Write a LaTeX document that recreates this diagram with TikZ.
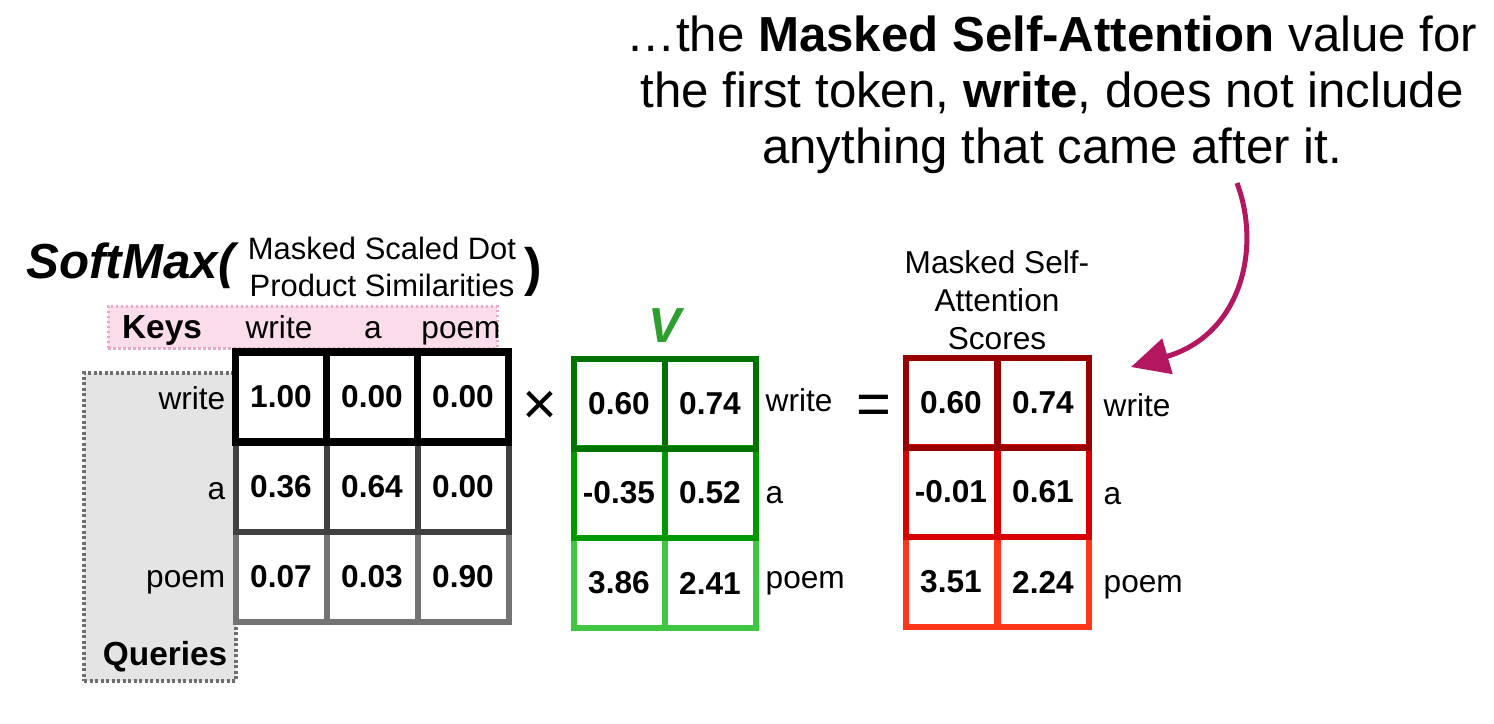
\documentclass[tikz,border=0pt]{standalone}
\usepackage{fontspec}
\setmainfont{Liberation Sans}
\usepackage{xcolor}
\usetikzlibrary{arrows.meta,positioning}

\definecolor{keyfill}{HTML}{FADCEA}
\definecolor{keyline}{HTML}{E6A9C8}
\definecolor{qryfill}{HTML}{E4E4E4}
\definecolor{qryline}{HTML}{6E6E6E}
\definecolor{vgreen}{HTML}{2E9E2E}
\definecolor{magentaarrow}{HTML}{B3175F}

\begin{document}
\begin{tikzpicture}[
x=0.1mm,
y=-0.1mm,
every node/.style={font=\fontsize{9}{10}\selectfont,inner sep=0pt},
cell/.style={rectangle,draw,line width=0.6mm,minimum width=9.1mm,minimum height=9mm,font=\fontsize{9}{10}\bfseries\selectfont},
simA/.style={cell,draw=black,line width=0.75mm},
simB/.style={cell,draw=black!75},
simC/.style={cell,draw=black!55},
valA/.style={cell,draw=green!45!black},
valB/.style={cell,draw=green!60!black},
valC/.style={cell,draw=green!70!black!75!white},
resA/.style={cell,draw=red!60!black},
resB/.style={cell,draw=red!85!black},
resC/.style={cell,draw=red!75!orange!90!white},
tag/.style={font=\fontsize{9}{10}\selectfont},
hand/.style={font=\fontsize{9.5}{11}\bfseries\selectfont},
headline/.style={align=center,font=\fontsize{8.8}{10.7}\selectfont},
op/.style={font=\fontsize{17}{18}\selectfont},
pointer/.style={-{Triangle[length=3.8mm,width=3.6mm]},line width=0.5mm,draw=magentaarrow}
]
\useasboundingbox (0,0) rectangle (1494,724);

\node[align=center,font=\fontsize{14}{15.9}\selectfont] (note) at (1052,95)
  {\dots the \textbf{Masked Self-Attention} value for\\the first token, \textbf{write}, does not include\\anything that came after it.};

\node[anchor=west,font=\fontsize{14}{17}\bfseries\itshape\selectfont] (softmax) at (26,266) {SoftMax(};
\node[headline] (simtitle) at (382,267) {Masked Scaled Dot\\Product Similarities};
\node[font=\fontsize{15}{18}\bfseries\selectfont] (closep) at (533,272) {)};

\node[rectangle,draw=keyline,fill=keyfill,dash pattern=on 0.25mm off 0.25mm,line width=0.3mm,minimum width=38.9mm,minimum height=4.2mm] (keys) at (302.5,327) {};
\node[hand,anchor=base] (keyslbl) at (162,338) {Keys};
\node[tag,anchor=base] (kwrite) at (279,338) {write};
\node[tag,anchor=base] (ka) at (373,338) {a};
\node[tag,anchor=base] (kpoem) at (461,338) {poem};

\node[rectangle,draw=qryline,fill=qryfill,dash pattern=on 0.3mm off 0.25mm,line width=0.35mm,minimum width=15.2mm,minimum height=30.8mm] (queries) at (160,527) {};
\node[hand,anchor=base east] (qrylbl) at (228,665) {Queries};
\node[tag,anchor=base east] (qwrite) at (226,409) {write};
\node[tag,anchor=base east] (qa) at (226,499) {a};
\node[tag,anchor=base east] (qpoem) at (226,587) {poem};

\node[simC] (s31) at (281,577) {0.07};
\node[simC] (s32) at (372,577) {0.03};
\node[simC] (s33) at (463,577) {0.90};
\node[simB] (s21) at (281,487) {0.36};
\node[simB] (s22) at (372,487) {0.64};
\node[simB] (s23) at (463,487) {0.00};
\node[simA] (s11) at (281,397) {1.00};
\node[simA] (s12) at (372,397) {0.00};
\node[simA] (s13) at (463,397) {0.00};

\node[op] (times) at (540,408) {×};

\node[text=vgreen,font=\fontsize{14}{16}\bfseries\itshape\selectfont] (vname) at (665,326) {V};
\node[valC] (v31) at (619,583) {3.86};
\node[valC] (v32) at (710,583) {2.41};
\node[valB] (v21) at (619,493) {-0.35};
\node[valB] (v22) at (710,493) {0.52};
\node[valA] (v11) at (619,404) {0.60};
\node[valA] (v12) at (710,404) {0.74};
\node[tag,anchor=base west] (vwrite) at (765,411) {write};
\node[tag,anchor=base west] (va) at (765,503) {a};
\node[tag,anchor=base west] (vpoem) at (765,588) {poem};

\node[op] (equals) at (874,410) {=};

\node[headline,font=\fontsize{9}{10.8}\selectfont] (restitle) at (997,300) {Masked Self-\\Attention\\Scores};
\node[resC] (r31) at (951,582) {3.51};
\node[resC] (r32) at (1043,582) {2.24};
\node[resB] (r21) at (951,492) {-0.01};
\node[resB] (r22) at (1043,492) {0.61};
\node[resA] (r11) at (951,403) {0.60};
\node[resA] (r12) at (1043,403) {0.74};
\node[tag,anchor=base west] (rwrite) at (1103,416) {write};
\node[tag,anchor=base west] (ra) at (1103,504) {a};
\node[tag,anchor=base west] (rpoem) at (1103,592) {poem};

\coordinate (tailpt) at (1237,183);
\coordinate (tippt) at (1131,367);
\draw[pointer] (tailpt) .. controls (1262,250) and (1240,335) .. (tippt);
\end{tikzpicture}
\end{document}
